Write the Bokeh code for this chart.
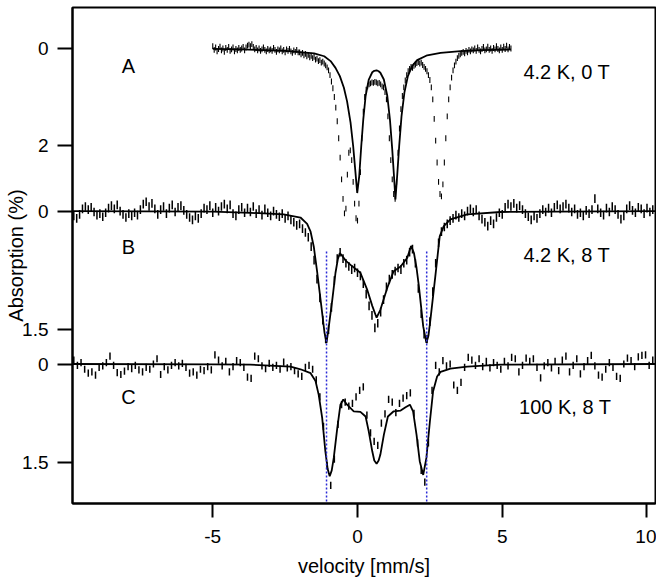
import numpy as np
from bokeh.plotting import figure
from bokeh.models import Range1d, FixedTicker, CustomJSTickFormatter, Label
from bokeh.embed import file_html
from bokeh.resources import INLINE

# ---------------- data ----------------
# velocity channels (mm/s)
vel_A = np.round(-5.0 + 0.05 * np.arange(207), 3)
vel_B = np.round(-9.8 + 0.1 * np.arange(201), 3)
vel_C = np.round(-9.8 + 0.125 * np.arange(161), 4)

# panel A : 4.2 K, 0 T  (absorption %)
abs_A = [
    -0.05, 0.03, -0.02, 0.06, 0.01, -0.04, 0.04, 0.00, 0.07, -0.01, 0.03, -0.03, 0.05, 0.02, -0.02, 0.06, 0.01, 0.04, -0.01, 0.03,
    0.00, -0.03, 0.04, -0.02, -0.06, -0.08, -0.05, -0.09, -0.03, 0.02, -0.01, 0.04, 0.00, 0.05, 0.02, -0.02, 0.03, 0.06, 0.01, 0.04,
    0.02, 0.05, -0.01, 0.03, 0.07, 0.02, 0.04, 0.00, 0.06, 0.03, 0.08, 0.02, 0.05, 0.01, 0.06, 0.09, 0.04, 0.07, 0.03, 0.08,
    0.08, 0.12, 0.09, 0.14, 0.11, 0.16, 0.13, 0.18, 0.15, 0.20, 0.17, 0.23, 0.21, 0.26, 0.24, 0.29, 0.27, 0.31, 0.35, 0.39,
    0.45, 0.55, 0.68, 0.82, 1.00, 1.22, 1.50, 1.85, 2.25, 2.70, 3.10, 3.40, 3.30, 2.60, 2.15, 2.10, 2.30, 2.75, 3.20, 3.50,
    3.55, 3.20, 2.55, 1.85, 1.30, 1.00, 0.85, 0.78, 0.74, 0.72, 0.70, 0.71, 0.69, 0.70, 0.72, 0.71, 0.74, 0.78, 0.80, 0.90,
    1.05, 1.40, 1.85, 2.30, 2.70, 3.00, 3.10, 2.75, 2.15, 1.65, 1.25, 0.98, 0.80, 0.66, 0.55, 0.47, 0.42, 0.38, 0.40, 0.36,
    0.33, 0.30, 0.28, 0.31, 0.29, 0.34, 0.38, 0.42, 0.47, 0.55, 0.65, 0.80, 1.05, 1.45, 1.90, 2.35, 2.75, 3.00, 3.05, 2.80,
    2.35, 1.85, 1.40, 1.05, 0.80, 0.60, 0.45, 0.35, 0.27, 0.20, 0.15, 0.12, 0.09, 0.07, 0.10, 0.05, 0.08, 0.03, 0.06, 0.02,
    0.04, 0.00, 0.05, -0.02, 0.03, 0.06, 0.01, -0.03, 0.04, 0.02, -0.04, 0.03, 0.00, 0.05, -0.01, 0.02, -0.05, 0.01, 0.04, -0.02,
    0.03, -0.04, 0.01, -0.06, 0.02, -0.03, 0.00,
]

# panel B : 4.2 K, 8 T
abs_B = [
    0.06, 0.09, 0.04, -0.03, -0.06, -0.02, -0.05, 0.01, 0.05, 0.03,
    0.07, 0.02, -0.04, -0.07, -0.03, -0.08, 0.00, 0.04, 0.08, 0.03,
    0.06, 0.02, 0.05, -0.02, -0.09, -0.12, -0.06, -0.10, -0.03, 0.04,
    -0.02, -0.06, 0.03, -0.04, -0.08, 0.01, -0.05, -0.07, -0.01, 0.04,
    0.08, 0.11, 0.06, 0.09, 0.03, -0.04, -0.02, -0.07, 0.02, -0.05,
    0.00, -0.06, -0.09, -0.03, -0.08, 0.03, 0.06, -0.02, -0.05, 0.02,
    -0.04, 0.01, -0.06, 0.03, -0.02, 0.05, -0.03, 0.02, 0.06, 0.00,
    0.04, 0.07, 0.03, 0.09, 0.06, 0.11, 0.14, 0.18, 0.16, 0.22,
    0.27, 0.33, 0.45, 0.62, 0.86, 1.10, 1.38, 1.62, 1.50, 1.22,
    0.88, 0.60, 0.52, 0.60, 0.66, 0.70, 0.74, 0.72, 0.78, 0.82,
    0.92, 1.05, 1.20, 1.32, 1.48, 1.42, 1.28, 1.12, 0.96, 0.86,
    0.80, 0.76, 0.72, 0.74, 0.66, 0.62, 0.52, 0.48, 0.66, 0.98,
    1.30, 1.56, 1.62, 1.40, 1.02, 0.66, 0.40, 0.26, 0.20, 0.16,
    0.12, 0.09, 0.05, 0.08, 0.03, 0.06, 0.00, -0.03, 0.01, -0.02,
    0.06, 0.10, 0.14, 0.19, 0.12, 0.16, 0.08, 0.02, 0.04, -0.05,
    -0.09, -0.06, -0.10, -0.04, -0.07, -0.02, 0.03, 0.07, 0.11, 0.06,
    0.09, 0.03, -0.02, 0.01, -0.04, 0.02, -0.05, -0.08, -0.03, -0.06,
    -0.09, -0.04, 0.01, -0.03, 0.04, 0.02, 0.06, -0.01, 0.03, -0.02,
    -0.16, -0.03, 0.02, 0.05, -0.04, 0.01, -0.06, -0.02, 0.04, 0.10,
    0.06, -0.03, -0.07, -0.01, 0.02, -0.05, -0.03, 0.03, -0.04, 0.01, -0.02,
]

# panel C : 100 K, 8 T
abs_C = [
    -0.06, 0.02, -0.02, 0.08, 0.14, 0.12, 0.17, 0.05,
    0.03, -0.02, -0.12, 0.02, 0.13, 0.16, 0.11, 0.04,
    0.07, 0.02, 0.09, 0.12, 0.05, 0.08, 0.00, -0.08,
    0.16, 0.04, 0.09, 0.02, -0.02, 0.03, -0.01, 0.05,
    0.14, 0.12, 0.17, 0.08, 0.10, 0.04, 0.09, -0.14,
    -0.06, 0.03, -0.04, 0.12, 0.04, -0.05, -0.02, 0.05,
    0.20, 0.22, -0.12, -0.08, 0.03, 0.07, -0.01, 0.05,
    0.02, 0.08, -0.03, 0.06, 0.04, 0.10, 0.15, 0.19,
    0.05, 0.02, 0.08, 0.24, 0.50, 0.95, 1.55, 1.85,
    1.45, 0.92, 0.62, 0.58, 0.64, 0.60, 0.50, 0.40,
    0.35, 0.78, 1.05, 1.18, 1.24, 0.90, 0.76, 0.54,
    0.58, 0.74, 0.60, 0.52, 0.48, 0.44, 0.75, 1.20,
    1.62, 1.80, 1.20, 0.40, 0.02, 0.12, -0.05, 0.03,
    0.00, 0.32, 0.40, 0.28, 0.05, -0.10, -0.06, 0.02,
    -0.08, 0.04, -0.04, 0.06, -0.02, 0.02, 0.08, -0.04,
    0.03, -0.10, -0.08, 0.12, 0.02, -0.09, -0.04, -0.08,
    0.05, 0.21, 0.03, -0.02, 0.06, -0.04, 0.10, -0.06,
    -0.12, 0.12, 0.02, -0.08, 0.15, 0.04, -0.05, -0.13,
    0.03, 0.17, 0.20, 0.08, -0.02, 0.05, 0.19, 0.22,
    0.00, -0.09, -0.05, 0.04, -0.11, -0.13, -0.14, 0.02, -0.06,
]

err_A, err_B, err_C = 0.06, 0.055, 0.055

# fitted curves
fit_A_v = [-5.0, -4.0, -3.0, -2.5, -2.0, -1.5, -1.15, -0.93, -0.76, -0.61, -0.47, -0.36, -0.24, -0.15, -0.07,
           -0.01, 0.06, 0.13, 0.20, 0.28, 0.39, 0.51, 0.58, 0.66, 0.73, 0.79, 0.91, 1.03, 1.12, 1.20, 1.26, 1.31,
           1.37, 1.44, 1.52, 1.62, 1.74, 1.89, 2.06, 2.41, 2.87, 3.56, 4.3, 5.3]
fit_A = [0.01, 0.02, 0.04, 0.05, 0.075, 0.10, 0.16, 0.26, 0.40, 0.57, 0.81, 1.09, 1.53, 2.01, 2.56,
         2.98, 2.63, 2.01, 1.46, 0.98, 0.64, 0.49, 0.46, 0.45, 0.47, 0.50, 0.64, 0.98, 1.46, 2.08, 2.63, 3.11,
         2.63, 2.01, 1.40, 0.91, 0.57, 0.36, 0.24, 0.14, 0.09, 0.055, 0.035, 0.02]

fit_B_v = [-9.85, -5.0, -3.7, -2.55, -1.97, -1.74, -1.62, -1.51, -1.39, -1.25, -1.14, -1.07, -0.99, -0.87,
           -0.76, -0.68, -0.61, -0.50, -0.40, -0.24, 0.10, 0.33, 0.51, 0.66, 0.79, 1.03, 1.25, 1.49, 1.72,
           1.85, 1.95, 2.04, 2.12, 2.27, 2.38, 2.45, 2.52, 2.69, 2.84, 2.98, 3.21, 3.79, 4.94, 10.3]
fit_B = [0.0, 0.005, 0.02, 0.04, 0.08, 0.16, 0.26, 0.45, 0.78, 1.20, 1.54, 1.67, 1.46, 1.12,
         0.78, 0.61, 0.53, 0.58, 0.63, 0.68, 0.78, 0.99, 1.20, 1.35, 1.25, 0.97, 0.76, 0.70, 0.59,
         0.44, 0.53, 0.72, 0.95, 1.46, 1.67, 1.58, 1.37, 0.82, 0.32, 0.19, 0.105, 0.04, 0.01, 0.0]

fit_C_v = [-9.85, -5.0, -3.7, -2.31, -1.97, -1.62, -1.45, -1.34, -1.22, -1.11, -1.03, -0.96, -0.89, -0.82,
           -0.70, -0.59, -0.49, -0.36, -0.13, 0.10, 0.28, 0.39, 0.51, 0.58, 0.66, 0.73, 0.79, 0.91, 1.05,
           1.25, 1.49, 1.66, 1.81, 1.92, 2.04, 2.15, 2.27, 2.38, 2.50, 2.61, 2.75, 2.87, 3.21, 3.79, 4.94, 10.3]
fit_C = [0.0, 0.005, 0.01, 0.04, 0.08, 0.14, 0.26, 0.47, 0.82, 1.33, 1.60, 1.71, 1.62, 1.43,
         0.98, 0.62, 0.54, 0.62, 0.72, 0.73, 0.80, 1.03, 1.33, 1.47, 1.52, 1.47, 1.38, 1.08, 0.80,
         0.72, 0.71, 0.66, 0.62, 0.72, 1.08, 1.48, 1.69, 1.43, 0.88, 0.42, 0.19, 0.12, 0.07, 0.04, 0.01, 0.0]

# dotted guide lines (velocity of the outer lines in B / C)
guide_v = [-1.07, 2.39]
guide_top_B = 0.51

y_ticks_A, y_ticks_B, y_ticks_C = [0, 2], [0, 1.5], [0, 1.5]
x_ticks = [-5, 0, 5, 10]

# ---------------- layout ----------------
FONT = "Liberation Sans"
X0, X1 = -9.845, 10.294
panel = {"A": (-0.845, 9.381), "B": (-2.582, 3.705), "C": (-5.431, 2.125)}  # (top, bottom)

def to_B(name, val):
    top, bot = panel[name]
    frac = (val - top) / (bot - top)
    bt, bb = panel["B"]
    return bt + frac * (bb - bt)

p = figure(width=656, height=584, x_range=Range1d(X0, X1),
           y_range=Range1d(start=panel["B"][1], end=panel["B"][0]),
           output_backend="svg", toolbar_location=None,
           min_border_left=72, min_border_right=1, min_border_top=7, min_border_bottom=81)
p.extra_y_ranges = {"A": Range1d(start=panel["A"][1], end=panel["A"][0]),
                    "C": Range1d(start=panel["C"][1], end=panel["C"][0])}
p.xgrid.visible = False
p.ygrid.visible = False
p.outline_line_color = "black"
p.outline_line_width = 2
p.background_fill_color = "white"
p.border_fill_color = "white"

# y axis ticks for all three panels
tick_pos = [to_B("A", v) for v in y_ticks_A] + [to_B("B", v) for v in y_ticks_B] + [to_B("C", v) for v in y_ticks_C]
tick_lab = [str(v) for v in y_ticks_A + y_ticks_B + y_ticks_C]
yax = p.yaxis[0]
yax.ticker = FixedTicker(ticks=tick_pos)
yax.formatter = CustomJSTickFormatter(args=dict(pos=tick_pos, labels=tick_lab), code="""
for (let i = 0; i < pos.length; i++) { if (Math.abs(pos[i] - tick) < 1e-6) return labels[i]; }
return '';
""")
yax.axis_label = "Absorption (%)"
xax = p.xaxis[0]
xax.ticker = FixedTicker(ticks=x_ticks)
xax.formatter = CustomJSTickFormatter(code="return tick.toFixed(0);")
xax.axis_label = "velocity [mm/s]"
for ax in (xax, yax):
    ax.axis_line_width = 2
    ax.axis_line_color = "black"
    ax.major_tick_line_width = 2
    ax.major_tick_line_color = "black"
    ax.major_tick_in = 0
    ax.minor_tick_line_color = None
    ax.major_label_text_font = FONT
    ax.major_label_text_font_size = "19px"
    ax.major_label_text_color = "black"
    ax.axis_label_text_font = FONT
    ax.axis_label_text_font_size = "20px"
    ax.axis_label_text_font_style = "normal"
    ax.axis_label_text_color = "black"
xax.major_tick_out = 14
xax.major_label_standoff = 12
xax.axis_label_standoff = 9
yax.major_tick_out = 15
yax.major_label_standoff = 9
yax.axis_label_standoff = -8

# ---------------- marks ----------------
def bars(v, vals, err, rng, width):
    lo = [y - err for y in vals]
    hi = [y + err for y in vals]
    kw = {} if rng == "B" else {"y_range_name": rng}
    p.segment(x0=list(v), y0=lo, x1=list(v), y1=hi, line_color="black", line_width=width, **kw)

bars(vel_A, abs_A, err_A, "A", 1.1)
bars(vel_B, abs_B, err_B, "B", 1.5)
bars(vel_C, abs_C, err_C, "C", 1.5)

p.line(fit_A_v, fit_A, y_range_name="A", line_color="black", line_width=1.8)
p.line(fit_B_v, fit_B, line_color="black", line_width=1.8)
p.line(fit_C_v, fit_C, y_range_name="C", line_color="black", line_width=1.8)

p.segment(x0=guide_v, x1=guide_v, y0=[guide_top_B] * 2, y1=[panel["B"][1]] * 2,
          line_color="#2b2bd6", line_dash="2 2", line_width=1.5)

def lab(text, x, y, rng, align="left"):
    kw = {} if rng == "B" else {"y_range_name": rng}
    p.add_layout(Label(x=x, y=y, text=text, text_font=FONT, text_font_size="20px",
                       text_align=align, text_baseline="middle", text_color="black", **kw))

lab("A", -7.91, 0.37, "A", "center")
lab("B", -7.91, 0.46, "B", "center")
lab("C", -7.91, 0.50, "C", "center")
lab("4.2 K, 0 T", 5.73, 0.49, "A")
lab("4.2 K, 8 T", 5.73, 0.55, "B")
lab("100 K, 8 T", 5.58, 0.66, "C")

open("out.html", "w").write(file_html(p, INLINE))
